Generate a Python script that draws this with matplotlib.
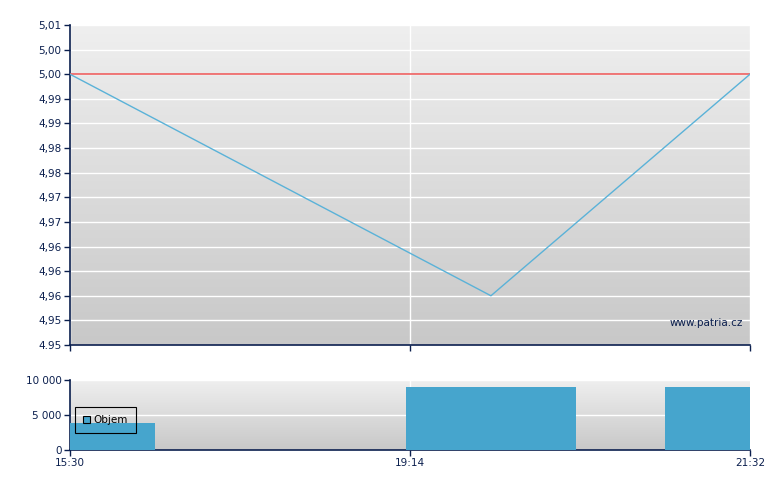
import numpy as np
import matplotlib
matplotlib.use('Agg')
import matplotlib.pyplot as plt
from matplotlib.patches import Patch

# --- data ---
price_x = [0.0, 0.619, 1.0]          # positions on the (index-like) time axis
price = [5.00, 4.96, 5.00]
prev_close = 5.00
volume_x = [0.0, 0.619, 1.0]
volume = [3850, 9000, 9000]
time_ticks = [0.0, 0.5, 1.0]
time_labels = ['15:30', '19:14', '21:32']
price_labels = ['5,01', '5,00', '5,00', '4,99', '4,99', '4,98', '4,98',
                '4,97', '4,97', '4,96', '4,96', '4,96', '4,95', '4.95']
vol_ticks = [0, 5000, 10000]
vol_labels = ['0', '5 000', '10 000']

navy = '#0b1f4e'
line_blue = '#5ab2d8'
bar_blue = '#46a5cd'
red = '#ee6060'

plt.rcParams['font.family'] = 'DejaVu Sans'
plt.rcParams['font.size'] = 7.5

fig = plt.figure(figsize=(7.8, 4.9), dpi=100)
W, H = 780, 490
ax = fig.add_axes([70 / W, (H - 345) / H, 680 / W, 320 / H])
axv = fig.add_axes([70 / W, (H - 450) / H, 680 / W, 70 / H])


def grad_bg(a):
    g = np.linspace(0, 1, 256).reshape(-1, 1)
    a.imshow(g, cmap=matplotlib.colors.LinearSegmentedColormap.from_list(
        'bg', ['#efefef', '#c8c8c8']), extent=[0, 1, 0, 1],
        transform=a.transAxes, aspect='auto', zorder=0, origin='upper')


def style(a):
    for s in ['top', 'right']:
        a.spines[s].set_visible(False)
    for s in ['left', 'bottom']:
        a.spines[s].set_color(navy)
        a.spines[s].set_linewidth(1.2)
    a.tick_params(colors=navy, length=4, width=1, direction='out', pad=2,
                  labelcolor=navy)
    a.grid(True, color='white', linewidth=1)
    a.set_axisbelow(True)


# --- price panel ---
step = (prev_close - min(price)) / 9
ymax = prev_close + 2 * step
ymin = ymax - 13 * step
grad_bg(ax)
style(ax)
ax.set_xlim(0, 1)
ax.set_ylim(ymin, ymax)
ax.set_yticks(np.linspace(ymax, ymin, 14))
ax.set_yticklabels(price_labels)
ax.set_xticks(time_ticks)
ax.set_xticklabels([])
ax.axhline(prev_close, color=red, linewidth=1.2, zorder=3)
ax.plot(price_x, price, color=line_blue, linewidth=1, zorder=4)
ax.text(0.99, 0.069, 'www.patria.cz', transform=ax.transAxes,
        ha='right', va='center', color=navy, fontsize=7.5)

# --- volume panel ---
grad_bg(axv)
style(axv)
axv.bar(volume_x, volume, width=0.25, color=bar_blue, zorder=3)
axv.set_xlim(0, 1)
axv.set_ylim(0, 10000)
axv.set_yticks(vol_ticks)
axv.set_yticklabels(vol_labels)
axv.set_xticks(time_ticks)
axv.set_xticklabels(time_labels)
axv.xaxis.grid(False)
axv.axvline(0.5, color='white', linewidth=1, zorder=1)

leg = axv.legend(handles=[Patch(facecolor=bar_blue, edgecolor='black',
                                linewidth=0.8, label='Objem')],
                 loc='lower left', bbox_to_anchor=(0.007, 0.24),
                 borderaxespad=0, fancybox=False, facecolor='none',
                 edgecolor='black', handlelength=0.7, handleheight=0.7,
                 handletextpad=0.3, borderpad=0.8, fontsize=7.5)
leg.get_frame().set_linewidth(0.8)
leg.get_frame().set_alpha(None)
leg.set_zorder(5)

fig.savefig('out.png', dpi=100)
